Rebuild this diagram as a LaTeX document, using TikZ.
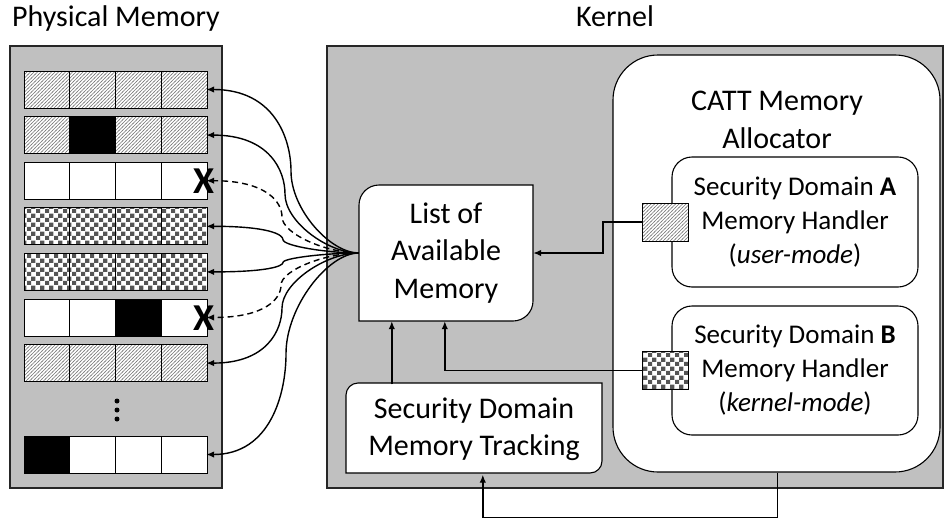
\documentclass[tikz,border=0pt]{standalone}
\usepackage{fontspec}
\setmainfont{Carlito}
\usetikzlibrary{arrows.meta,patterns,patterns.meta,calc}
\definecolor{panelgray}{RGB}{192,192,192}
\definecolor{hatchgray}{RGB}{120,120,120}
\definecolor{checkgray}{RGB}{85,85,85}
\tikzdeclarepattern{name=checks,type=uncolored,bounding box={(0pt,0pt) and (9pt,9pt)},tile size={(9pt,9pt)},
  code={\fill (0pt,0pt) rectangle (4.5pt,4.5pt); \fill (4.5pt,4.5pt) rectangle (9pt,9pt);}}
\tikzdeclarepattern{name=hatch,type=uncolored,bounding box={(-1pt,-1pt) and (4.5pt,4.5pt)},tile size={(3.5pt,3.5pt)},
  code={\draw[line width=0.45pt] (-0.5pt,-0.5pt) -- (4pt,4pt);}}
\tikzset{
  t30/.style={font=\fontsize{30}{37.5}\selectfont},
  t27/.style={font=\fontsize{27}{34}\selectfont},
  panel/.style={draw=black!85, line width=1.1pt, fill=panelgray},
  boxline/.style={draw=black, line width=1.1pt},
  hz/.style={preaction={fill=white}, pattern=hatch, pattern color=hatchgray},
  ck/.style={preaction={fill=white}, pattern=checks, pattern color=checkgray},
  bk/.style={fill=black},
  wt/.style={fill=white},
  cellline/.style={draw=black, line width=1pt},
  rowbox/.style={minimum width=183pt, minimum height=37pt, inner sep=0pt, draw=none},
  fan/.style={line width=1.4pt, -{Latex[length=8pt,width=6.5pt]}, shorten >=-1pt},
  fandash/.style={fan, dash pattern=on 6pt off 4pt},
  conn/.style={line width=1.4pt, -{Latex[length=8pt,width=6.5pt]}},
  sqbox/.style={draw=black, line width=0.9pt, minimum width=46pt, minimum height=38pt, inner sep=0pt},
  xmark/.style={font=\fontsize{38}{38}\selectfont\bfseries, inner sep=0pt},
  dot/.style={circle, fill=black, inner sep=0pt, minimum size=5pt},
}
\newcommand\memrow[6]{%
  \node[rowbox] (#1) at (115.5,{#2+18.5}) {};
  \foreach \k/\f in {0/#3,1/#4,2/#5,3/#6} {
    \draw[cellline,\f] ({24+45.75*\k},#2) rectangle ++(45.75,37);
  }
}
\begin{document}
\begin{tikzpicture}[x=1pt,y=-1pt]
\useasboundingbox (0,0) rectangle (944,519);

% headings
\node[t30, anchor=base] (hpm) at (116,27) {Physical Memory};
\node[t30, anchor=base] (hk) at (615,27) {Kernel};

% panels
\draw[panel] (10,46) rectangle (222,488);
\draw[panel] (327,46) rectangle (943,488);

% memory rows
\memrow{r1}{71}{hz}{hz}{hz}{hz}
\memrow{r2}{116.6}{hz}{bk}{hz}{hz}
\memrow{r3}{162.2}{wt}{wt}{wt}{wt}
\memrow{r4}{207.8}{ck}{ck}{ck}{ck}
\memrow{r5}{253.4}{ck}{ck}{ck}{ck}
\memrow{r6}{299}{wt}{wt}{bk}{wt}
\memrow{r7}{344.6}{hz}{hz}{hz}{hz}
\memrow{r8}{436}{bk}{wt}{wt}{wt}
\node[dot] (d1) at (117,401) {};
\node[dot] (d2) at (117,410) {};
\node[dot] (d3) at (117,419) {};
\node[xmark] (x3) at (203.5,181.5) {X};
\node[xmark] (x6) at (203.5,318.3) {X};

% CATT allocator
\node[boxline, fill=white, rounded corners=45pt, minimum width=327pt, minimum height=417pt, inner sep=0pt] (catt) at (776.5,263.5) {};
\node[t30, align=center] (cattlbl) at (777,120) {CATT Memory\\Allocator};
\node[boxline, fill=white, rounded corners=20pt, minimum width=246pt, minimum height=130pt, inner sep=0pt, t27, align=center] (sda) at (795,222)
  {Security Domain \textbf{A}\\Memory Handler\\(\textit{user-mode})};
\node[boxline, fill=white, rounded corners=20pt, minimum width=246pt, minimum height=129pt, inner sep=0pt, t27, align=center] (sdb) at (795,370.5)
  {Security Domain \textbf{B}\\Memory Handler\\(\textit{kernel-mode})};
\node[sqbox, hz] (sqa) at (665,222) {};
\node[sqbox, ck] (sqb) at (665,370.5) {};

% List of available memory
\draw[boxline, fill=white] (359,321) -- (359,205) arc[start angle=180,end angle=90,radius=20pt]
  -- (533,185) -- (533,301) arc[start angle=0,end angle=-90,radius=20pt] -- cycle;
\node[t30, align=center, minimum width=174pt, minimum height=136pt, inner sep=0pt] (list) at (446,253)
  {List of\\Available\\Memory};

% Security domain memory tracking
\draw[boxline, fill=white] (346,473) -- (346,395) arc[start angle=180,end angle=90,radius=12pt]
  -- (602,383) -- (602,461) arc[start angle=0,end angle=-90,radius=12pt] -- cycle;
\node[t30, align=center, minimum width=256pt, minimum height=90pt, inner sep=0pt] (sdmt) at (474,429.5)
  {Security Domain\\Memory Tracking};

% fan of connectors
\draw[fan] (list.west) .. controls (330.4,253) and (291,209.7) .. (291,171.25)
  .. controls (291,138.6) and (274.2,89.5) .. (r1.east);
\draw[fan] (list.west) .. controls (327.9,253) and (285,221.8) .. (285,194.05)
  .. controls (285,170.5) and (269.4,135.1) .. (r2.east);
\draw[fandash] (list.west) .. controls (326.7,253) and (282,233.8) .. (282,216.85)
  .. controls (282,202.4) and (267,180.7) .. (r3.east);
\draw[fan] (list.west) .. controls (327.1,253) and (283,245.9) .. (283,239.65)
  .. controls (283,234.3) and (267.8,226.3) .. (r4.east);
\draw[fan] (list.west) .. controls (327.1,253) and (283,258) .. (283,262.45)
  .. controls (283,266.2) and (267.8,271.9) .. (r5.east);
\draw[fandash] (list.west) .. controls (326.2,253) and (281,270.1) .. (281,285.25)
  .. controls (281,298.2) and (266.2,317.5) .. (r6.east);
\draw[fan] (list.west) .. controls (326.7,253) and (282,282.2) .. (282,308.05)
  .. controls (282,330.1) and (267,363.1) .. (r7.east);
\draw[fan] (list.west) .. controls (328.3,253) and (286,306.4) .. (286,353.75)
  .. controls (286,394.05) and (270.2,454.5) .. (r8.east);

% kernel connectors
\draw[conn] (sqa.west) -- (603,222) |- (list.east);
\draw[conn] (sqb.west) -| ([xshift=86pt]list.south west);
\draw[conn] ([xshift=46pt]sdmt.north west) -- ([xshift=33pt]list.south west);
\draw[conn] ([xshift=165pt]catt.south west) -- ++(0,45) -| ([xshift=137pt]sdmt.south west);
\end{tikzpicture}
\end{document}
